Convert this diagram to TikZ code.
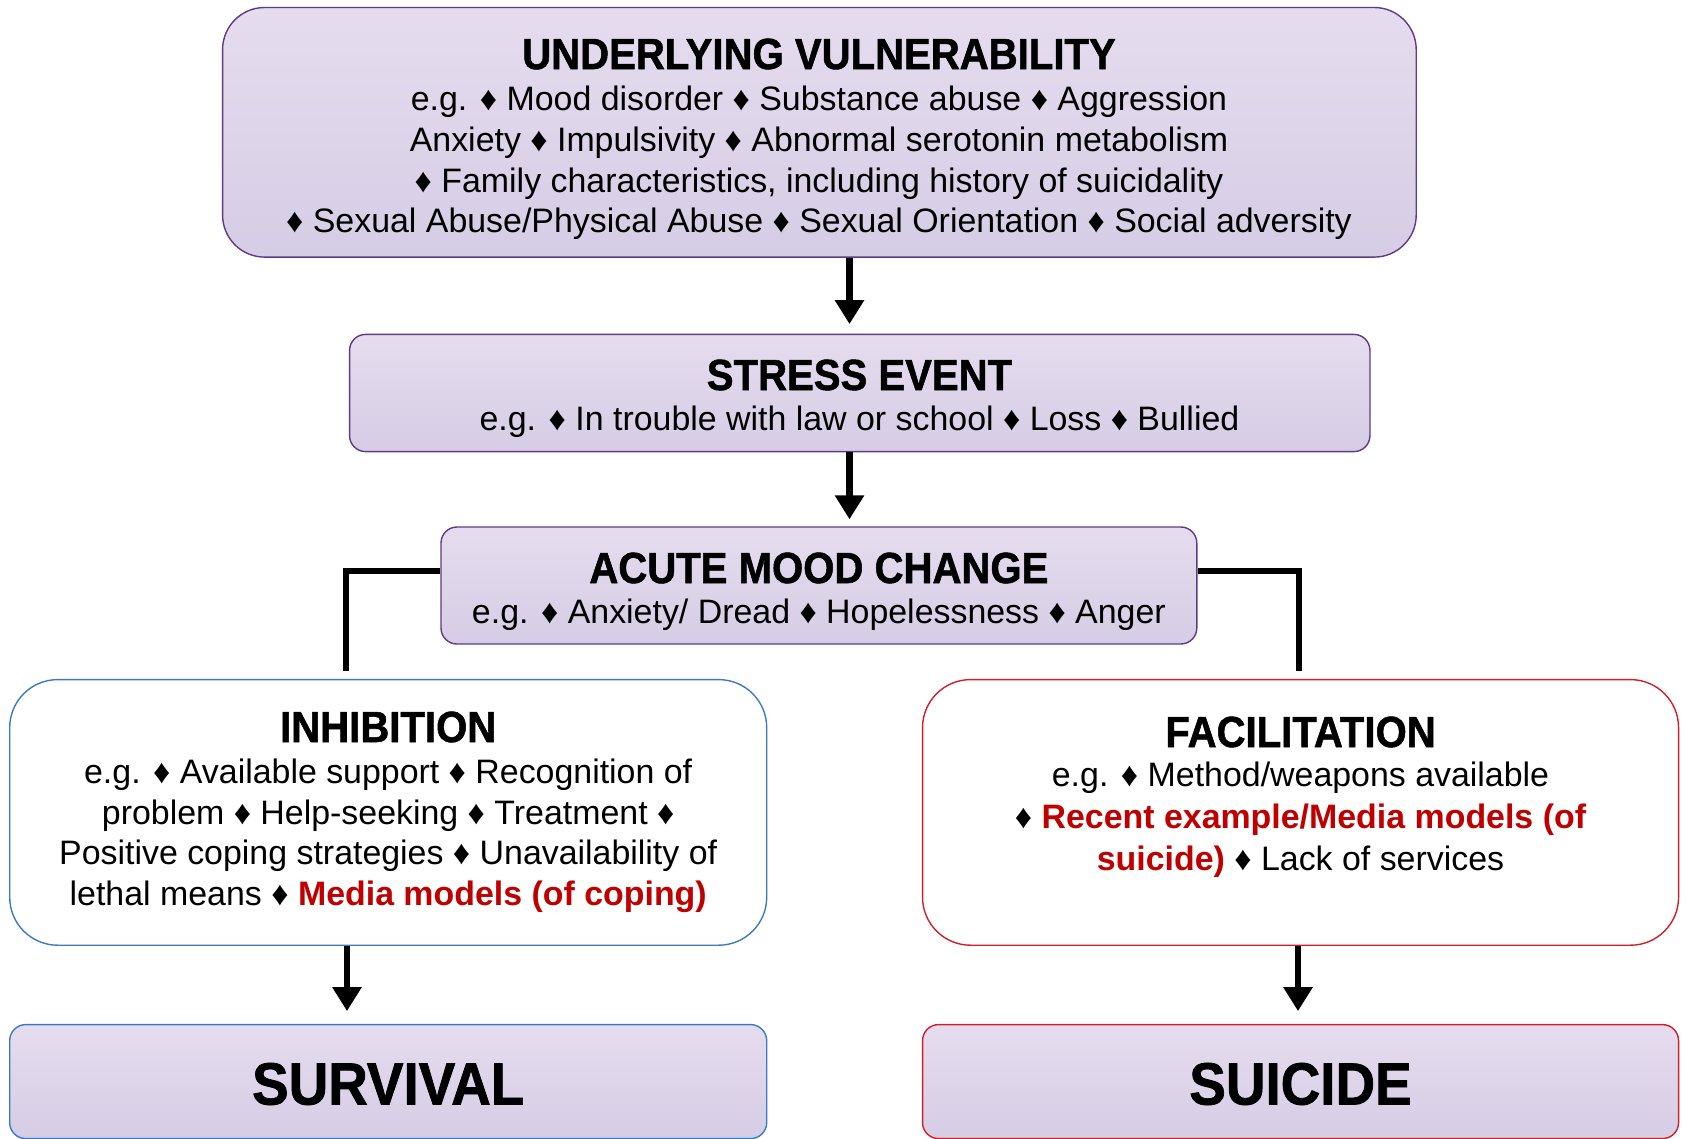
\documentclass[tikz,border=0pt]{standalone}
\usepackage{fontspec}
\setmainfont{Liberation Sans}
\newfontfamily\ttl[FakeStretch=0.92,FakeBold=1.2]{Liberation Sans Bold}
\usetikzlibrary{arrows.meta,calc}
\definecolor{lavtop}{HTML}{E6DCEF}
\definecolor{lavbot}{HTML}{D5CDE5}
\definecolor{boxpurple}{HTML}{5E3B84}
\definecolor{boxblue}{HTML}{3A7CC0}
\definecolor{boxred}{HTML}{D21E2A}
\definecolor{txtred}{HTML}{C00000}
\begin{document}
\begin{tikzpicture}[x=0.5pt,y=-0.5pt,
  lavbox/.style={draw=boxpurple, line width=0.7pt, top color=lavtop, bottom color=lavbot, inner sep=0pt, rounded corners=8pt},
  whitebox/.style={fill=white, line width=0.7pt, inner sep=0pt, rounded corners=24pt},
  ttltext/.style={font=\ttl\fontsize{21.8}{24}\selectfont, inner sep=0pt},
  bigtext/.style={font=\ttl\fontsize{29.8}{32}\selectfont, inner sep=0pt},
  bodytext/.style={font=\fontsize{16.95}{20.3}\selectfont, align=center, inner sep=0pt},
  arr/.style={line width=3.3pt, -{Triangle[width=14pt,length=12pt]}},
  conn/.style={line width=3.3pt, line join=miter}
]
\useasboundingbox (0,0) rectangle (1686,1139);
% boxes
\node[lavbox, rounded corners=21pt, minimum width=596.8pt, minimum height=124.8pt] (vuln) at (819.4,132.3) {};
\node[lavbox, minimum width=510.2pt, minimum height=58.6pt] (stress) at (859.75,393) {};
\node[lavbox, minimum width=377.9pt, minimum height=58.5pt] (acute) at (818.9,585.5) {};
\node[whitebox, draw=boxblue, minimum width=378.5pt, minimum height=132.8pt] (inhib) at (388.2,812.4) {};
\node[whitebox, draw=boxred, minimum width=378pt, minimum height=132.8pt] (facil) at (1300.55,812.4) {};
\node[lavbox, draw=boxblue, minimum width=378.5pt, minimum height=57pt] (surv) at (388.2,1081.6) {};
\node[lavbox, draw=boxred, minimum width=378pt, minimum height=57pt] (suic) at (1300.55,1081.6) {};
% texts
\node[ttltext] (vulnT) at (819,54) {UNDERLYING VULNERABILITY};
\node[bodytext] (vulnB) at (819,163) {e.g. ♦ Mood disorder ♦ Substance abuse ♦ Aggression\\
Anxiety ♦ Impulsivity ♦ Abnormal serotonin metabolism\\
♦ Family characteristics, including history of suicidality\\
♦ Sexual Abuse/Physical Abuse ♦ Sexual Orientation ♦ Social adversity};
\node[ttltext] (stressT) at (859.5,375) {STRESS EVENT};
\node[bodytext] (stressB) at (859.5,422.2) {e.g. ♦ In trouble with law or school ♦ Loss ♦ Bullied};
\node[ttltext] (acuteT) at (818.9,568) {ACUTE MOOD CHANGE};
\node[bodytext] (acuteB) at (818.9,615.2) {e.g. ♦ Anxiety/ Dread ♦ Hopelessness ♦ Anger};
\node[ttltext] (inhibT) at (388.2,727) {INHIBITION};
\node[bodytext] (inhibB) at (388.2,836) {e.g. ♦ Available support ♦ Recognition of\\
problem ♦ Help-seeking ♦ Treatment ♦\\
Positive coping strategies ♦ Unavailability of\\
lethal means ♦ {\bfseries\color{txtred}Media models (of coping)}};
\node[ttltext] (facilT) at (1300.5,732) {FACILITATION};
\node[bodytext, font=\fontsize{16.95}{20.8}\selectfont] (facilB) at (1300.5,819.7) {e.g. ♦ Method/weapons available\\
♦ {\bfseries\color{txtred}Recent example/Media models (of}\\
{\bfseries\color{txtred}suicide)} ♦ Lack of services};
\node[bigtext] (survT) at (388.2,1084) {SURVIVAL};
\node[bigtext] (suicT) at (1300.5,1084) {SUICIDE};
% connectors
\coordinate (a1) at (849.5,0);
\coordinate (lk) at (346,571);
\coordinate (rk) at (1299,571);
\coordinate (b1) at (347,0);
\coordinate (b2) at (1298,0);
\draw[arr, shorten >=4.8pt] (vuln.south -| a1) -- (stress.north -| a1);
\draw[arr, shorten >=3.5pt] (stress.south -| a1) -- (acute.north -| a1);
\draw[conn, shorten >=3.8pt] (acute.west |- lk) -| (lk |- inhib.north);
\draw[conn, shorten >=3.8pt] (acute.east |- rk) -| (rk |- facil.north);
\draw[arr, shorten >=6.4pt] (inhib.south -| b1) -- (surv.north -| b1);
\draw[arr, shorten >=6.4pt] (facil.south -| b2) -- (suic.north -| b2);
\end{tikzpicture}
\end{document}
